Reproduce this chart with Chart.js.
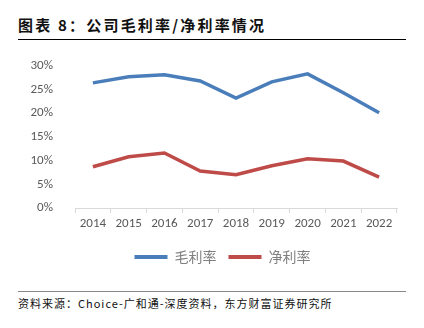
<!DOCTYPE html>
<html>
<head>
<meta charset="utf-8">
<script src="https://cdn.jsdelivr.net/npm/chart.js@4"></script>
<style>
  body { margin: 0; background: #fff; width: 424px; height: 328px; position: relative; overflow: hidden; }
  .title { position: absolute; left: 18px; top: 14px; font: bold 15px "Noto Sans CJK SC"; color: #111; letter-spacing: 2.2px; }
  .rule { position: absolute; left: 18px; width: 388px; height: 1px; }
  .source { position: absolute; left: 18px; top: 295px; font: 11px "Noto Sans CJK SC"; color: #111; letter-spacing: 1px; }
  #wrap { position: absolute; left: 0; top: 44px; width: 424px; height: 230px; }
</style>
</head>
<body>
<div class="title">图表 8：公司毛利率/净利率情况</div>
<div class="rule" style="top:39px;background:#000"></div>
<div id="wrap"><canvas id="chart"></canvas></div>
<div class="rule" style="top:291px;background:#888"></div>
<div class="source">资料来源：Choice-广和通-深度资料，东方财富证券研究所</div>
<script>
// data (percent)
const years = ["2014", "2015", "2016", "2017", "2018", "2019", "2020", "2021", "2022"];
const grossMargin = [26.4, 27.7, 28.1, 26.8, 23.2, 26.6, 28.3, 24.3, 20.1];
const netMargin = [8.7, 10.8, 11.6, 7.8, 7.0, 8.9, 10.4, 9.9, 6.5];
const yTicks = [0, 5, 10, 15, 20, 25, 30];

const tickFont = { family: "Calibri, 'Liberation Sans', 'Open Sans', sans-serif", size: 13 };

// legend sits right of centre in the original
const shiftLegend = {
  id: "shiftLegend",
  afterLayout(chart) {
    chart.legend.left += 24;
    chart.legend.right += 24;
  }
};

new Chart("chart", {
  type: "line",
  data: {
    labels: years,
    datasets: [{
      label: "毛利率",
      data: grossMargin,
      borderColor: "#4a7ebb",
      backgroundColor: "#4a7ebb",
      borderWidth: 3.5,
      pointRadius: 0,
      tension: 0
    }, {
      label: "净利率",
      data: netMargin,
      borderColor: "#be4b48",
      backgroundColor: "#be4b48",
      borderWidth: 3.5,
      pointRadius: 0,
      tension: 0
    }]
  },
  plugins: [shiftLegend],
  options: {
    responsive: true,
    maintainAspectRatio: false,
    animation: false,
    layout: { padding: { left: 0, right: 27, top: 3, bottom: 0 } },
    plugins: {
      legend: {
        position: "bottom",
        labels: {
          boxWidth: 33,
          boxHeight: 4,
          padding: 12,
          color: "#7f7f7f",
          font: { family: "'Noto Sans CJK SC'", size: 14 },
          generateLabels: chart => Chart.defaults.plugins.legend.labels.generateLabels(chart)
            .map(item => Object.assign(item, { lineWidth: 0 }))
        }
      },
      tooltip: { enabled: false }
    },
    scales: {
      x: {
        offset: true,
        grid: { display: true, drawOnChartArea: false, tickLength: 5, color: "#d9d9d9", offset: true },
        border: { color: "#d9d9d9" },
        ticks: { color: "#595959", font: tickFont, padding: 3, maxRotation: 0 },
        afterFit: s => { s.height = 30; }
      },
      y: {
        min: 0,
        max: 30,
        grid: { display: false },
        border: { display: false },
        afterBuildTicks: s => { s.ticks = yTicks.map(v => ({ value: v })); },
        ticks: { color: "#595959", font: tickFont, padding: 14, callback: v => v + "%" },
        afterFit: s => { s.width = 75; }
      }
    }
  }
});
</script>
</body>
</html>
